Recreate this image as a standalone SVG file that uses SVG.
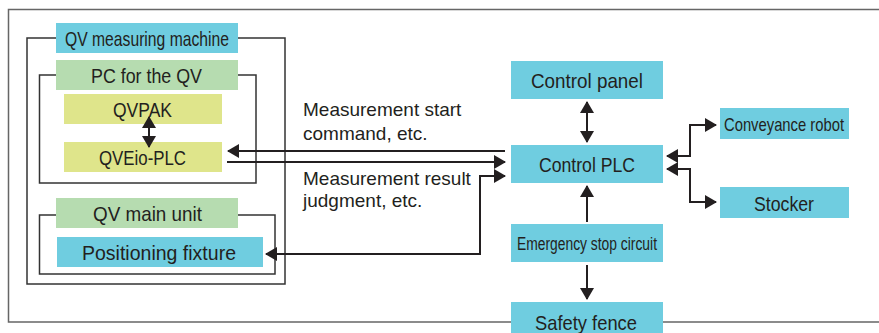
<svg xmlns="http://www.w3.org/2000/svg" width="879" height="333" viewBox="0 0 879 333">
<style>
text{font-family:"Liberation Sans",Arial,sans-serif;fill:#231f20}
.lbl{font-size:21px}
.note{font-size:19px}
.cy{fill:#6fcde0}
.gr{fill:#b6dcb0}
.ye{fill:#dfe58b}
.frame{fill:none;stroke:#333;stroke-width:1.5}
.outer{fill:none;stroke:#666;stroke-width:1.5}
.con{fill:none;stroke:#231f20;stroke-width:2}
.a1{marker-end:url(#ah)}
.a2{marker-start:url(#ah);marker-end:url(#ah)}
</style>
<defs>
<marker id="ah" markerUnits="userSpaceOnUse" markerWidth="12" markerHeight="14" refX="11" refY="7" orient="auto-start-reverse" viewBox="0 0 12 14">
<path d="M0,0 L12,7 L0,14 z" fill="#231f20"/>
</marker>
</defs>
<rect width="879" height="333" fill="#fff"/>
<path class="outer" d="M879,9.5 H8.5 V322 H879"/>

<g id="qv-machine">
<rect class="frame" x="27" y="38" width="258" height="246"/>
<rect class="cy" x="56" y="23" width="182" height="30"/>
<text class="lbl" x="65" y="46" textLength="164" lengthAdjust="spacingAndGlyphs">QV measuring machine</text>
</g>
<g id="pc-for-qv">
<rect class="frame" x="39.5" y="75" width="216.5" height="108"/>
<rect class="gr" x="56" y="60" width="182" height="30"/>
<text class="lbl" x="91" y="83" textLength="111" lengthAdjust="spacingAndGlyphs">PC for the QV</text>
</g>
<g id="qvpak">
<rect class="ye" x="64" y="94" width="158" height="30"/>
<text class="lbl" x="113" y="117" textLength="59" lengthAdjust="spacingAndGlyphs">QVPAK</text>
</g>
<g id="qveio-plc">
<rect class="ye" x="64" y="142" width="158" height="30"/>
<text class="lbl" x="99" y="165" textLength="87" lengthAdjust="spacingAndGlyphs">QVEio-PLC</text>
</g>
<g id="qv-main-unit">
<rect class="frame" x="39.5" y="215" width="235.5" height="59"/>
<rect class="gr" x="56" y="198" width="182" height="30"/>
<text class="lbl" x="93" y="221" textLength="109" lengthAdjust="spacingAndGlyphs">QV main unit</text>
</g>
<g id="positioning-fixture">
<rect class="cy" x="57" y="237" width="206" height="30"/>
<text class="lbl" x="82" y="260" textLength="154" lengthAdjust="spacingAndGlyphs">Positioning fixture</text>
</g>
<g id="control-panel">
<rect class="cy" x="511" y="61" width="152" height="38"/>
<text class="lbl" x="531" y="88" textLength="112" lengthAdjust="spacingAndGlyphs">Control panel</text>
</g>
<g id="control-plc">
<rect class="cy" x="511" y="145" width="152" height="38"/>
<text class="lbl" x="539" y="172" textLength="96" lengthAdjust="spacingAndGlyphs">Control PLC</text>
</g>
<g id="emergency-stop">
<rect class="cy" x="511" y="224" width="152" height="38"/>
<text x="517" y="250" font-size="18" textLength="140" lengthAdjust="spacingAndGlyphs">Emergency stop circuit</text>
</g>
<g id="safety-fence">
<rect class="cy" x="511" y="302" width="152" height="40"/>
<text class="lbl" x="535" y="330" textLength="102" lengthAdjust="spacingAndGlyphs">Safety fence</text>
</g>
<g id="conveyance-robot">
<rect class="cy" x="720" y="108" width="129" height="31"/>
<text x="724" y="131" font-size="18.5" textLength="120" lengthAdjust="spacingAndGlyphs">Conveyance robot</text>
</g>
<g id="stocker">
<rect class="cy" x="720" y="187" width="129" height="31"/>
<text class="lbl" x="754" y="211" textLength="60" lengthAdjust="spacingAndGlyphs">Stocker</text>
</g>

<g id="connectors">
<path class="con a2" d="M149,117 V147"/>
<path class="con a1" d="M505,151 H228"/>
<path class="con a1" d="M227,162 H505"/>
<path class="con a2" d="M266,254 H480 V176 H505"/>
<path class="con a2" d="M587,102 V142"/>
<path class="con a1" d="M587,222 V186"/>
<path class="con a1" d="M587,265 V299"/>
<path class="con a2" d="M667,156 H690 V125 H716"/>
<path class="con a2" d="M667,169 H690 V202 H716"/>
<text class="note" x="303" y="116">Measurement start</text>
<text class="note" x="303" y="140">command, etc.</text>
<text class="note" x="303" y="185">Measurement result</text>
<text class="note" x="303" y="207">judgment, etc.</text>
</g>
</svg>
